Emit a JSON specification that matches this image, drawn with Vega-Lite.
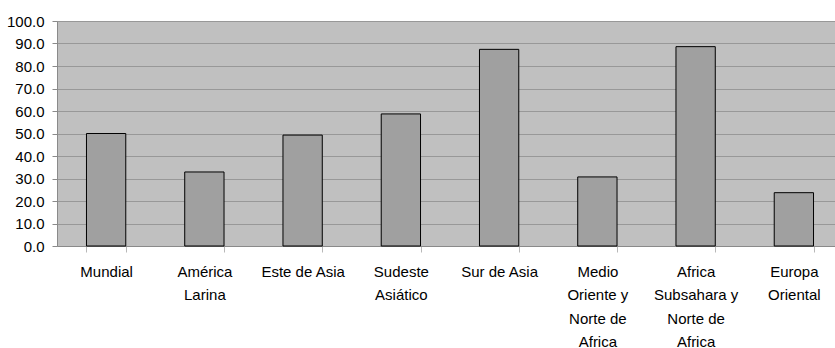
{
  "$schema": "https://vega.github.io/schema/vega-lite/v6.json",
  "width": 778,
  "height": 225,
  "autosize": {"type": "none"},
  "padding": {"left": 57, "top": 21, "right": 0, "bottom": 102},
  "background": "white",
  "config": {
    "view": {"fill": "#c0c0c0", "stroke": null},
    "font": "Liberation Sans"
  },
  "data": {
    "values": [
      {"region": "Mundial", "value": 50.0},
      {"region": "América\nLarina", "value": 32.9},
      {"region": "Este de Asia", "value": 49.3},
      {"region": "Sudeste\nAsiático", "value": 58.7},
      {"region": "Sur de Asia", "value": 87.4},
      {"region": "Medio\nOriente y\nNorte de\nAfrica", "value": 30.7},
      {"region": "Africa\nSubsahara y\nNorte de\nAfrica", "value": 88.6},
      {"region": "Europa\nOriental", "value": 23.7}
    ]
  },
  "mark": {"type": "bar", "fill": "#a0a0a0", "stroke": "#000000", "strokeWidth": 1},
  "encoding": {
    "x": {
      "field": "region",
      "type": "nominal",
      "sort": null,
      "scale": {"range": [0, 786], "paddingInner": 0.6, "paddingOuter": 0.3},
      "axis": {
        "title": null,
        "labelAngle": 0,
        "labelExpr": "split(datum.label, '\\n')",
        "labelFontSize": 15,
        "labelColor": "#000000",
        "labelBaseline": "top",
        "labelLineHeight": 23.5,
        "labelPadding": 12,
        "labelLimit": 0,
        "tickBand": "extent",
        "tickSize": 6,
        "tickColor": "#b8b8b8",
        "domainColor": "#8a8a8a",
        "grid": false
      }
    },
    "y": {
      "field": "value",
      "type": "quantitative",
      "scale": {"domain": [0, 100], "nice": false},
      "axis": {
        "title": null,
        "values": [0, 10, 20, 30, 40, 50, 60, 70, 80, 90, 100],
        "format": ".1f",
        "labelFontSize": 15,
        "labelColor": "#000000",
        "labelPadding": 8,
        "tickSize": 5,
        "tickColor": "#8a8a8a",
        "domainColor": "#8a8a8a",
        "grid": true,
        "gridColor": "#989898",
        "gridWidth": 1
      }
    }
  }
}
